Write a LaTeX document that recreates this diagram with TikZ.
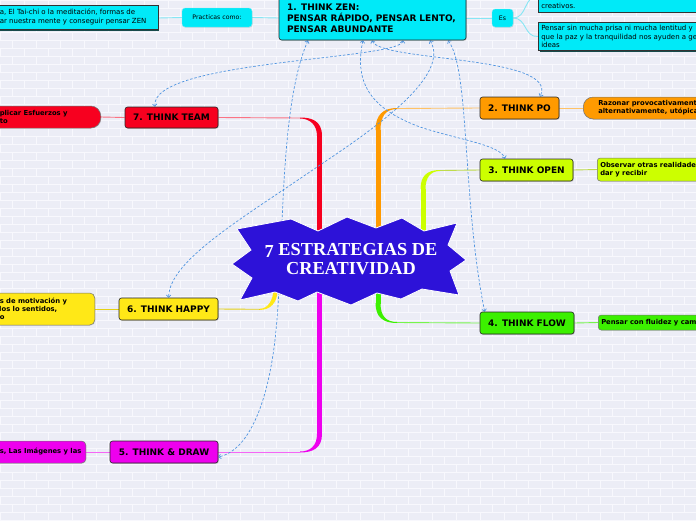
\documentclass[tikz,border=0pt]{standalone}
\usepackage{fontspec}
\newfontfamily\dvs{DejaVu Sans}
\newfontfamily\lserif{Liberation Serif}
\usetikzlibrary{arrows.meta,shadows}
\pgfdeclarelayer{back}
\pgfdeclarelayer{wires}
\pgfsetlayers{back,wires,main}
\definecolor{bgc}{HTML}{ECEDF6}
\definecolor{brickc}{HTML}{F8F8FD}
\definecolor{cyanc}{HTML}{00EAF8}
\definecolor{cyanl}{HTML}{86E6F4}
\definecolor{redc}{HTML}{F7001F}
\definecolor{orangec}{HTML}{FF9A00}
\definecolor{chartc}{HTML}{CCFF00}
\definecolor{greenc}{HTML}{3CF000}
\definecolor{yellowc}{HTML}{FFE817}
\definecolor{magc}{HTML}{EE00EE}
\definecolor{starc}{HTML}{2D12D8}
\definecolor{dashc}{HTML}{4F94E0}
\newcommand{\lefttext}[2]{\hspace*{16pt}\parbox{#1}{#2}}
\tikzset{
  title/.style={draw=black!85, line width=0.6pt, rounded corners=2.5pt, inner sep=0pt,
    font=\dvs\bfseries\fontsize{9}{11}\selectfont,
    drop shadow={shadow xshift=0.8pt,shadow yshift=-0.8pt,opacity=0.35}},
  minibox/.style={fill=cyanc, draw=cyanl, line width=0.4pt, rounded corners=3pt, inner sep=0pt,
    font=\dvs\fontsize{6.2}{7.5}\selectfont,
    drop shadow={shadow xshift=0.6pt,shadow yshift=-0.6pt,opacity=0.25}},
  cyandesc/.style={fill=cyanc, draw=black!80, line width=0.5pt, inner xsep=3pt, inner ysep=3pt,
    font=\dvs\fontsize{7}{8.5}\selectfont,
    drop shadow={shadow xshift=1.5pt,shadow yshift=-1.5pt,fill=black!55!teal,opacity=0.9}},
  boldesc/.style={draw=black!55, line width=0.5pt, inner xsep=3pt, inner ysep=2pt,
    font=\dvs\bfseries\fontsize{6.8}{8.2}\selectfont,
    drop shadow={shadow xshift=0.6pt,shadow yshift=-0.6pt,opacity=0.25}},
  dashrel/.style={draw=dashc, line width=0.7pt, dash pattern=on 2.5pt off 1.8pt,
    {Straight Barb[length=2.2pt,width=4.5pt]}-{Straight Barb[length=2.2pt,width=4.5pt]}},
  brick/.style={draw=brickc, line width=0.6pt},
  twig/.style={line width=0.9pt}
}
\begin{document}
\begin{tikzpicture}[x=1pt,y=-1pt]
\useasboundingbox (0,0) rectangle (696,520);
\begin{pgfonlayer}{back}
\begin{scope}
\clip (0,0) rectangle (696,520);
\fill[bgc] (0,0) rectangle (696,520);
\foreach \r in {0,...,65} {
  \pgfmathsetmacro\yy{\r*8}
  \pgfmathsetmacro\off{mod(\r,2)*12}
  \draw[brick] (0,\yy) -- (696,\yy);
  \foreach \c in {0,...,29} { \draw[brick] ({\c*24+\off},\yy) -- ++(0,8); }
}
\end{scope}
\end{pgfonlayer}

\begin{scope}
\clip (0,0) rectangle (696,520);
% star shape
\filldraw[fill=starc, draw=white, line width=0.8pt]
  (237,229) -- (291,219) -- (318,231) -- (347,217) -- (376,228) -- (402,218) -- (424,231) -- (457,223)
  -- (448,245) -- (466,260) -- (450,271) -- (459,295) -- (422,289) -- (401,299) -- (377,293)
  -- (351,305) -- (317,292) -- (298,301) -- (275,292) -- (240,300) -- (252,278) -- (232,264)
  -- (251,250) -- cycle;
\node[font=\lserif\bfseries\fontsize{18.3}{19}\selectfont, text=white, align=center] (hub) at (351,259.5)
  {\raisebox{-2pt}{7} ESTRATEGIAS DE\\CREATIVIDAD};

% central zen node and its children
\node[title, fill=cyanc, minimum height=44, text width=171, align=left, inner xsep=8pt] (zen) at (372.5,18)
  {1. THINK ZEN:\\PENSAR RÁPIDO, PENSAR LENTO,\\PENSAR ABUNDANTE};
\node[minibox, minimum width=70, minimum height=19] (prac) at (217,17.5) {Practicas como:};
\node[minibox, minimum width=21, minimum height=18] (es) at (502.5,18) {Es};
\node[cyandesc, anchor=east, minimum height=24] (zenl) at (158,17)
  {\lefttext{155pt}{a, El Tai-chi o la meditación, formas de\\ar nuestra mente y conseguir pensar ZEN}};
\node[cyandesc, anchor=south west, text height=26pt] (rc1) at (538,12) {\parbox{160pt}{creativos.}};
\node[cyandesc, anchor=north west] (rc2) at (538,22)
  {\parbox{160pt}{Pensar sin mucha prisa ni mucha lentitud y\\que la paz y la tranquilidad nos ayuden a ge\\ideas}};

% branch titles
\node[title, fill=redc, minimum width=93, minimum height=21] (team) at (171.5,117.5) {7. THINK TEAM};
\node[title, fill=orangec, minimum width=79, minimum height=22] (po) at (519.5,108) {2. THINK PO};
\node[title, fill=chartc, minimum width=93, minimum height=22] (open) at (526.5,170) {3. THINK OPEN};
\node[title, fill=greenc, minimum width=94, minimum height=22] (flow) at (527,323) {4. THINK FLOW};
\node[title, fill=yellowc, minimum width=99, minimum height=22] (happy) at (168.5,309) {6. THINK HAPPY};
\node[title, fill=magc, minimum width=108, minimum height=22] (thinkdraw) at (164,452) {5. THINK \& DRAW};

% branch descriptions
\node[boldesc, fill=redc, rounded corners=10pt, anchor=east, minimum height=22] (teamd) at (101,117)
  {\lefttext{98pt}{plicar Esfuerzos y\\to}};
\node[boldesc, fill=orangec, rounded corners=10pt, anchor=west, minimum height=22] (pod) at (583,108)
  {\hspace*{12pt}\parbox{140pt}{Razonar provocativament\\alternativamente, utópica}};
\node[boldesc, fill=chartc, rounded corners=3pt, anchor=west, minimum height=23] (opend) at (597,169.5)
  {\parbox{140pt}{Observar otras realidades\\dar y recibir}};
\node[boldesc, fill=greenc, rounded corners=3pt, anchor=west, minimum height=15] (flowd) at (598,322.5)
  {\parbox{140pt}{Pensar con fluidez y cam}};
\node[boldesc, fill=yellowc, rounded corners=5pt, anchor=east, minimum height=32] (happyd) at (95,309)
  {\lefttext{92pt}{s de motivación y\\\hspace*{-3pt}dos lo sentidos,\\o}};
\node[boldesc, fill=magc, rounded corners=4pt, anchor=east, minimum height=22] (drawd) at (86,452)
  {\lefttext{83pt}{s, Las Imágenes y las}};
\end{scope}

\begin{pgfonlayer}{wires}
\begin{scope}
\clip (0,0) rectangle (696,520);
% thin links
\draw[cyanl, twig] (zen.west |- 0,18) -- (prac.east);
\draw[cyanl, twig] (prac.west) -- (zenl.east |- 0,18);
\draw[cyanl, twig] (zen.east |- 0,18) -- (es.west);
\draw[cyanl, twig] (es.east) .. controls (527,18) and (524,-4) .. (rc1.west);
\draw[cyanl, twig] (es.east) .. controls (527,18) and (524,37.5) .. (rc2.west);
\draw[redc!55, twig] (team.west) -- (teamd.east);
\draw[orangec!60, twig] (po.east) -- (pod.west);
\draw[chartc!80!black!70, twig] (open.east) -- (opend.west);
\draw[greenc!70, twig] (flow.east) -- (flowd.west);
\draw[yellowc!90!black, twig] (happy.west) -- (happyd.east);
\draw[magc!60, twig] (thinkdraw.west) -- (drawd.east);

% tapered branches
\coordinate (redk) at (300,118);
\draw[redc!55, twig] (team.east) -- (redk);
\fill[redc] (300,117.5) .. controls (312,117.5) and (322,121) .. (322,136) -- (317,136) .. controls (317,125) and (310,118.5) .. (300,118.5) -- cycle;
\fill[redc] (317,135.5) rectangle (322,245);

\coordinate (magk) at (300,452);
\draw[magc!60, twig] (thinkdraw.east) -- (magk);
\fill[magc] (322,434) .. controls (322,448) and (313,452.5) .. (300,452.5) -- (300,451.5) .. controls (310,451.5) and (317,446) .. (317,434) -- cycle;
\fill[magc] (317,280) rectangle (322,434.5);

\coordinate (orak) at (397,108.5);
\draw[orangec!60, twig] (po.west) -- (orak);
\fill[orangec] (375.5,130) .. controls (375.5,115) and (383,108) .. (397,108) -- (397,109) .. controls (386,109) and (380.5,116) .. (380.5,130) -- cycle;
\fill[orangec] (375.5,129.5) rectangle (380.5,245);

\coordinate (chak) at (440,170.5);
\draw[chartc!80!black!70, twig] (open.west) -- (chak);
\fill[chartc] (420.5,189) .. controls (420.5,176) and (427,170) .. (440,170) -- (440,171) .. controls (430,171) and (425.5,178) .. (425.5,189) -- cycle;
\fill[chartc] (420.5,188.5) rectangle (425.5,245);

\coordinate (grek) at (397,322.5);
\draw[greenc!70, twig] (flow.west) -- (grek);
\fill[greenc] (375.5,303) .. controls (375.5,317) and (383,323) .. (397,323) -- (397,322) .. controls (386,322) and (380.5,316) .. (380.5,303) -- cycle;
\fill[greenc] (375.5,280) rectangle (380.5,303.5);

\coordinate (yelk) at (260,309.3);
\draw[yellowc!90!black, twig] (happy.east) -- (yelk);
\fill[yellowc] (260,309.9) .. controls (270,309.9) and (277.5,303) .. (277.5,290) -- (273.5,290) .. controls (273,300) and (268,308.7) .. (260,308.7) -- cycle;

% dashed relations from THINK ZEN
\draw[dashrel] ([xshift=30.5pt]zen.south) .. controls (400,60) and (150,60) .. ([xshift=-16.5pt]team.north);
\draw[dashrel] ([xshift=-0.5pt]zen.south) .. controls (380,62) and (560,55) .. ([xshift=20.5pt]po.north);
\draw[dashrel] ([xshift=-9.5pt]zen.south) .. controls (352,90) and (380,112) .. (420,127) .. controls (460,140) and (500,145) .. ([xshift=-21.5pt]open.north);
\draw[dashrel] ([xshift=57.5pt]zen.south) .. controls (450,75) and (380,125) .. (320,165) .. controls (240,220) and (170,260) .. (happy.north);
\draw[dashrel] ([xshift=75.5pt]zen.south) .. controls (470,70) and (462,200) .. ([xshift=5pt]flow.north west);
\draw[dashrel] ([xshift=-64.5pt]zen.south) .. controls (278,110) and (285,250) .. (275,340) .. controls (268,400) and (250,450) .. ([yshift=-5pt]thinkdraw.east);
\end{scope}
\end{pgfonlayer}
\end{tikzpicture}
\end{document}
